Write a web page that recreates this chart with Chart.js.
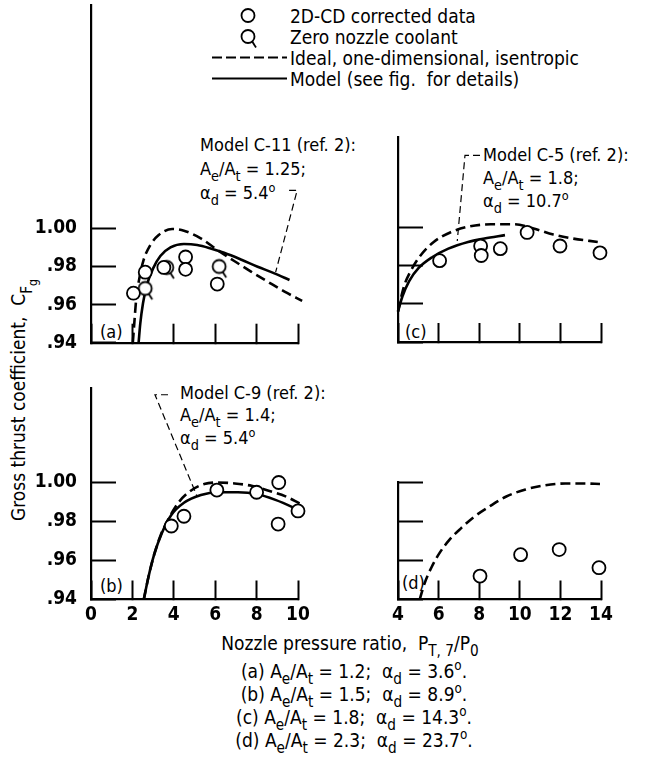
<!DOCTYPE html>
<html>
<head>
<meta charset="utf-8">
<script src="https://cdn.jsdelivr.net/npm/chart.js@4.4.1/dist/chart.umd.min.js"></script>
<style>
  html, body { margin: 0; padding: 0; background: #fff; }
  #page { position: relative; width: 647px; height: 759px; overflow: hidden; color: #000;
          font-family: 'Liberation Sans Narrow', 'DejaVu Sans Condensed', 'Liberation Sans', sans-serif; }
  #page canvas { position: absolute; left: 0; top: 0; }
  .t { position: absolute; font-size: 18px; line-height: 1; white-space: nowrap; }
  .t sub { font-size: 80%; vertical-align: -0.45em; line-height: 0; }
  .t sup { font-size: 70%; vertical-align: 0.55em; line-height: 0; }
  .big { font-size: 19px; }
  .mid { transform: translateY(-50%); }
  .ctr { transform: translate(-50%, -50%); }
  svg { position: absolute; overflow: visible; }
</style>
</head>
<body>
<div id="page">
  <!-- legend -->
  <svg style="left:0;top:0" width="647" height="100">
    <circle cx="248" cy="15.5" r="6.5" fill="#fff" stroke="#000" stroke-width="1.8"/>
    <circle cx="248" cy="36.5" r="6.5" fill="#fff" stroke="#000" stroke-width="1.8"/>
    <line x1="252.2" y1="41.5" x2="256" y2="47.5" stroke="#000" stroke-width="1.8"/>
    <line x1="212" y1="57.5" x2="287" y2="57.5" stroke="#000" stroke-width="2.2" stroke-dasharray="10,4"/>
    <line x1="212" y1="78.5" x2="287" y2="78.5" stroke="#000" stroke-width="2.2"/>
  </svg>
  <div class="t big mid" style="left:290px;top:15.5px">2D-CD corrected data</div>
  <div class="t big mid" style="left:290px;top:36.5px">Zero nozzle coolant</div>
  <div class="t big mid" style="left:290px;top:57.5px">Ideal, one-dimensional, isentropic</div>
  <div class="t big mid" style="left:290px;top:78.5px">Model (see fig.&nbsp; for details)</div>

  <!-- annotations -->
  <div class="t mid" style="left:200px;top:145px">Model C-11 (ref. 2):</div>
  <div class="t mid" style="left:200px;top:169px">A<sub>e</sub>/A<sub>t</sub> = 1.25;</div>
  <div class="t mid" style="left:200px;top:193px">&alpha;<sub>d</sub> = 5.4<sup>o</sup></div>

  <div class="t mid" style="left:483px;top:155px">Model C-5 (ref. 2):</div>
  <div class="t mid" style="left:483px;top:178px">A<sub>e</sub>/A<sub>t</sub> = 1.8;</div>
  <div class="t mid" style="left:483px;top:201px">&alpha;<sub>d</sub> = 10.7<sup>o</sup></div>

  <div class="t mid" style="left:180px;top:393px">Model C-9 (ref. 2):</div>
  <div class="t mid" style="left:180px;top:415px">A<sub>e</sub>/A<sub>t</sub> = 1.4;</div>
  <div class="t mid" style="left:180px;top:438px">&alpha;<sub>d</sub> = 5.4<sup>o</sup></div>

  <div class="t mid" style="left:100px;top:332px">(a)</div>
  <div class="t mid" style="left:405px;top:332px">(c)</div>
  <div class="t mid" style="left:100px;top:586px">(b)</div>
  <div class="t mid" style="left:402px;top:583px">(d)</div>

  <div class="t big ctr" style="left:21px;top:400px;transform:translate(-50%,-50%) rotate(-90deg)">Gross thrust coefficient,&nbsp; C<sub>F<sub>g</sub></sub></div>
  <div class="t big ctr" style="left:350px;top:643px">Nozzle pressure ratio,&nbsp; P<sub>T, 7</sub>/P<sub>0</sub></div>

  <div class="t big ctr" style="left:354px;top:671px">(a) A<sub>e</sub>/A<sub>t</sub> = 1.2;&nbsp; &alpha;<sub>d</sub> = 3.6<sup>o</sup>.</div>
  <div class="t big ctr" style="left:354px;top:694px">(b) A<sub>e</sub>/A<sub>t</sub> = 1.5;&nbsp; &alpha;<sub>d</sub> = 8.9<sup>o</sup>.</div>
  <div class="t big ctr" style="left:354px;top:717px">(c) A<sub>e</sub>/A<sub>t</sub> = 1.8;&nbsp; &alpha;<sub>d</sub> = 14.3<sup>o</sup>.</div>
  <div class="t big ctr" style="left:354px;top:740px">(d) A<sub>e</sub>/A<sub>t</sub> = 2.3;&nbsp; &alpha;<sub>d</sub> = 23.7<sup>o</sup>.</div>
</div>

<script>
// tick values
const leftXTicks = [0, 2, 4, 6, 8, 10];
const rightXTicks = [4, 6, 8, 10, 12, 14];
const yTicks = [0.94, 0.96, 0.98, 1.00];

// (a) Ae/At = 1.2
const aCorrectedX = [2.05, 2.62, 3.52, 4.57, 4.57, 6.1];
const aCorrectedY = [0.966, 0.977, 0.9795, 0.985, 0.9785, 0.9708];
const aZeroX = [2.62, 3.66, 6.19];
const aZeroY = [0.9685, 0.9795, 0.980];
const aIdealX = [2.02, 2.09, 2.18, 2.35, 2.54, 2.87, 3.27, 3.92, 4.49, 5.30, 6.11, 6.92, 7.73, 8.54, 9.35, 10.2];
const aIdealY = [0.940, 0.950, 0.9624, 0.9746, 0.9834, 0.9913, 0.9965, 0.9997, 0.9988, 0.9948, 0.9886, 0.9829, 0.9773, 0.972, 0.9668, 0.962];
const aModelX = [2.30, 2.38, 2.51, 2.70, 3.00, 3.35, 3.84, 4.49, 5.13, 5.78, 6.43, 7.24, 8.05, 8.86, 9.59];
const aModelY = [0.940, 0.950, 0.9606, 0.9703, 0.979, 0.9855, 0.990, 0.9918, 0.9913, 0.9895, 0.9872, 0.9837, 0.9799, 0.9764, 0.9729];
const aLeader = [[9.57, 1.02], [9.96, 1.02], [8.92, 0.977]];

// (b) Ae/At = 1.5
const bCorrectedX = [3.88, 4.49, 6.08, 8.0, 9.07, 9.04, 10.0];
const bCorrectedY = [0.9777, 0.9827, 0.9961, 0.995, 1.000, 0.9787, 0.9854];
const bIdealX = [2.55, 2.77, 3.05, 3.37, 3.75, 4.24, 4.82, 5.47, 6.12, 6.94, 7.76, 8.58, 9.40, 10.1];
const bIdealY = [0.940, 0.9513, 0.963, 0.9731, 0.9815, 0.9899, 0.9958, 0.9992, 1.000, 0.9995, 0.9983, 0.9958, 0.9929, 0.9891];
const bModelX = [2.55, 2.77, 3.05, 3.42, 3.87, 4.49, 5.31, 6.12, 7.1, 8.0, 8.91, 9.73, 10.05];
const bModelY = [0.940, 0.9513, 0.963, 0.974, 0.9832, 0.9896, 0.9936, 0.995, 0.995, 0.9941, 0.9911, 0.9874, 0.9857];
const bLeader = [[3.72, 1.045], [3.09, 1.045], [5.12, 0.993]];

// (c) Ae/At = 1.8
const cCorrectedX = [6.05, 8.07, 8.10, 9.04, 10.36, 11.98, 13.95];
const cCorrectedY = [0.9827, 0.9904, 0.9854, 0.989, 0.9975, 0.9904, 0.9868];
const cIdealX = [4.0, 4.09, 4.30, 4.63, 5.11, 5.76, 6.57, 7.45, 8.58, 9.72, 10.68, 11.65, 12.62, 13.84];
const cIdealY = [0.956, 0.9605, 0.9694, 0.9774, 0.9854, 0.9925, 0.9975, 1.0005, 1.0018, 1.0018, 0.9996, 0.9964, 0.9943, 0.9925];
const cModelX = [4.0, 4.22, 4.55, 5.03, 5.68, 6.48, 7.45, 8.26, 9.27];
const cModelY = [0.956, 0.964, 0.972, 0.979, 0.9845, 0.989, 0.9925, 0.9943, 0.9961];
const cLeader = [[8.04, 1.038], [7.30, 1.038], [6.92, 0.993]];

// (d) Ae/At = 2.3
const dCorrectedX = [8.04, 10.04, 11.94, 13.9];
const dCorrectedY = [0.952, 0.963, 0.9656, 0.9563];
const dIdealX = [5.07, 5.32, 5.64, 6.05, 6.54, 7.11, 7.76, 8.49, 9.31, 10.28, 11.26, 12.24, 13.21, 13.95];
const dIdealY = [0.940, 0.9486, 0.9563, 0.9639, 0.9707, 0.9766, 0.9825, 0.9876, 0.9927, 0.9964, 0.9986, 0.9995, 0.9995, 0.9992];

const FONT = "'Liberation Sans Narrow', 'DejaVu Sans Condensed', 'Liberation Sans', sans-serif";
const Y_BOX = 60;   // width kept for the y tick labels
const X_BOX = 40;   // height kept for the x tick labels
const page = document.getElementById('page');

function zip(xs, ys) {
    return xs.map((x, i) => ({ x: x, y: ys[i] }));
}

// circle with a short tail, the "zero coolant" symbol
function makeQMarker() {
    const c = document.createElement('canvas');
    c.width = 32; c.height = 32;
    const g = c.getContext('2d');
    const a = 57 * Math.PI / 180;
    g.strokeStyle = '#000';
    g.fillStyle = '#fff';
    g.lineWidth = 1.8;
    g.beginPath();
    g.arc(16, 16, 6.5, 0, Math.PI * 2);
    g.fill();
    g.stroke();
    g.beginPath();
    g.moveTo(16 + 6.5 * Math.cos(a), 16 + 6.5 * Math.sin(a));
    g.lineTo(16 + 13 * Math.cos(a), 16 + 13 * Math.sin(a));
    g.stroke();
    return c;
}
const qMarker = makeQMarker();

function leaderPlugin(points) {
    return {
        id: 'leader',
        afterDatasetsDraw(chart) {
            if (!points) return;
            const ctx = chart.ctx;
            const xs = chart.scales.x, ys = chart.scales.y;
            ctx.save();
            ctx.strokeStyle = '#000';
            ctx.lineWidth = 1.2;
            ctx.setLineDash([7, 4]);
            ctx.beginPath();
            points.forEach((p, i) => {
                const px = xs.getPixelForValue(p[0]);
                const py = ys.getPixelForValue(p[1]);
                if (i === 0) ctx.moveTo(px, py); else ctx.lineTo(px, py);
            });
            ctx.stroke();
            ctx.restore();
        }
    };
}

function noPadding(s) {
    s.paddingLeft = 0;
    s.paddingRight = 0;
    s.paddingTop = 0;
    s.paddingBottom = 0;
}

// one chart per panel, each on a full page canvas; the padding places its plot box
function makePanel(p) {
    const canvas = document.createElement('canvas');
    canvas.width = 647;
    canvas.height = 759;
    canvas.style.width = '647px';
    canvas.style.height = '759px';
    page.appendChild(canvas);

    const datasets = [];
    if (p.corrected) {
        datasets.push({
            label: '2D-CD corrected data',
            data: p.corrected,
            pointStyle: 'circle',
            pointRadius: 6.5,
            pointBorderWidth: 1.8,
            pointBorderColor: '#000',
            pointBackgroundColor: '#fff',
            clip: false
        });
    }
    if (p.zero) {
        datasets.push({
            label: 'Zero nozzle coolant',
            data: p.zero,
            pointStyle: qMarker,
            pointRadius: 6.5,
            clip: false
        });
    }
    if (p.ideal) {
        datasets.push({
            label: 'Ideal, one-dimensional, isentropic',
            data: p.ideal,
            showLine: true,
            borderColor: '#000',
            borderWidth: 2.6,
            borderDash: [10, 5],
            pointRadius: 0,
            cubicInterpolationMode: 'monotone',
            clip: false
        });
    }
    if (p.model) {
        datasets.push({
            label: 'Model (see fig. for details)',
            data: p.model,
            showLine: true,
            borderColor: '#000',
            borderWidth: 2.6,
            pointRadius: 0,
            cubicInterpolationMode: 'monotone',
            clip: false
        });
    }

    return new Chart(canvas, {
        type: 'scatter',
        data: { datasets: datasets },
        options: {
            responsive: false,
            animation: false,
            events: [],
            layout: {
                autoPadding: false,
                padding: { left: p.left - Y_BOX, right: 647 - p.right, top: p.top, bottom: 759 - p.bottom - X_BOX }
            },
            plugins: { legend: { display: false }, tooltip: { enabled: false } },
            scales: {
                x: {
                    type: 'linear',
                    min: p.xMin,
                    max: p.xMax,
                    afterBuildTicks: s => { s.ticks = p.xTicks.map(v => ({ value: v })); },
                    afterFit: s => { s.height = X_BOX; noPadding(s); },
                    border: { color: '#000', width: 2.2 },
                    grid: { drawOnChartArea: false, tickLength: -19, tickWidth: 2, tickColor: '#000' },
                    ticks: {
                        display: p.xLabels,
                        padding: 23,
                        color: '#000',
                        autoSkip: false,
                        font: { family: FONT, size: 19, weight: 'bold' },
                        maxRotation: 0,
                        callback: v => String(v)
                    }
                },
                y: {
                    type: 'linear',
                    min: 0.94,
                    max: p.yMax,
                    afterBuildTicks: s => { s.ticks = yTicks.map(v => ({ value: v })); },
                    afterFit: s => { s.width = Y_BOX; noPadding(s); },
                    border: { color: '#000', width: 2.2 },
                    grid: { drawOnChartArea: false, tickLength: -25, tickWidth: 2, tickColor: '#000' },
                    ticks: {
                        display: p.yLabels,
                        padding: 39,
                        color: '#000',
                        autoSkip: false,
                        font: { family: FONT, size: 19, weight: 'bold' },
                        callback: v => (v >= 0.995 ? '1.00' : '.' + Math.round(v * 100))
                    }
                }
            }
        },
        plugins: [leaderPlugin(p.leader)]
    });
}

makePanel({
    left: 91, right: 298, top: 5, bottom: 342.7,
    xMin: 0, xMax: 10, xTicks: leftXTicks, xLabels: false,
    yMax: 0.94 + (342.7 - 5) / 1905, yLabels: true,
    corrected: zip(aCorrectedX, aCorrectedY),
    zero: zip(aZeroX, aZeroY),
    ideal: zip(aIdealX, aIdealY),
    model: zip(aModelX, aModelY),
    leader: aLeader
});

makePanel({
    left: 398, right: 601, top: 137, bottom: 342,
    xMin: 4, xMax: 14, xTicks: rightXTicks, xLabels: false,
    yMax: 0.94 + (342 - 137) / 1905, yLabels: false,
    corrected: zip(cCorrectedX, cCorrectedY),
    ideal: zip(cIdealX, cIdealY),
    model: zip(cModelX, cModelY),
    leader: cLeader
});

makePanel({
    left: 91, right: 298, top: 388, bottom: 599.5,
    xMin: 0, xMax: 10, xTicks: leftXTicks, xLabels: true,
    yMax: 0.94 + (599.5 - 388) / 1950, yLabels: true,
    corrected: zip(bCorrectedX, bCorrectedY),
    ideal: zip(bIdealX, bIdealY),
    model: zip(bModelX, bModelY),
    leader: bLeader
});

makePanel({
    left: 398, right: 601, top: 482.5, bottom: 599.5,
    xMin: 4, xMax: 14, xTicks: rightXTicks, xLabels: true,
    yMax: 1.00, yLabels: false,
    corrected: zip(dCorrectedX, dCorrectedY),
    ideal: zip(dIdealX, dIdealY)
});
</script>
</body>
</html>
